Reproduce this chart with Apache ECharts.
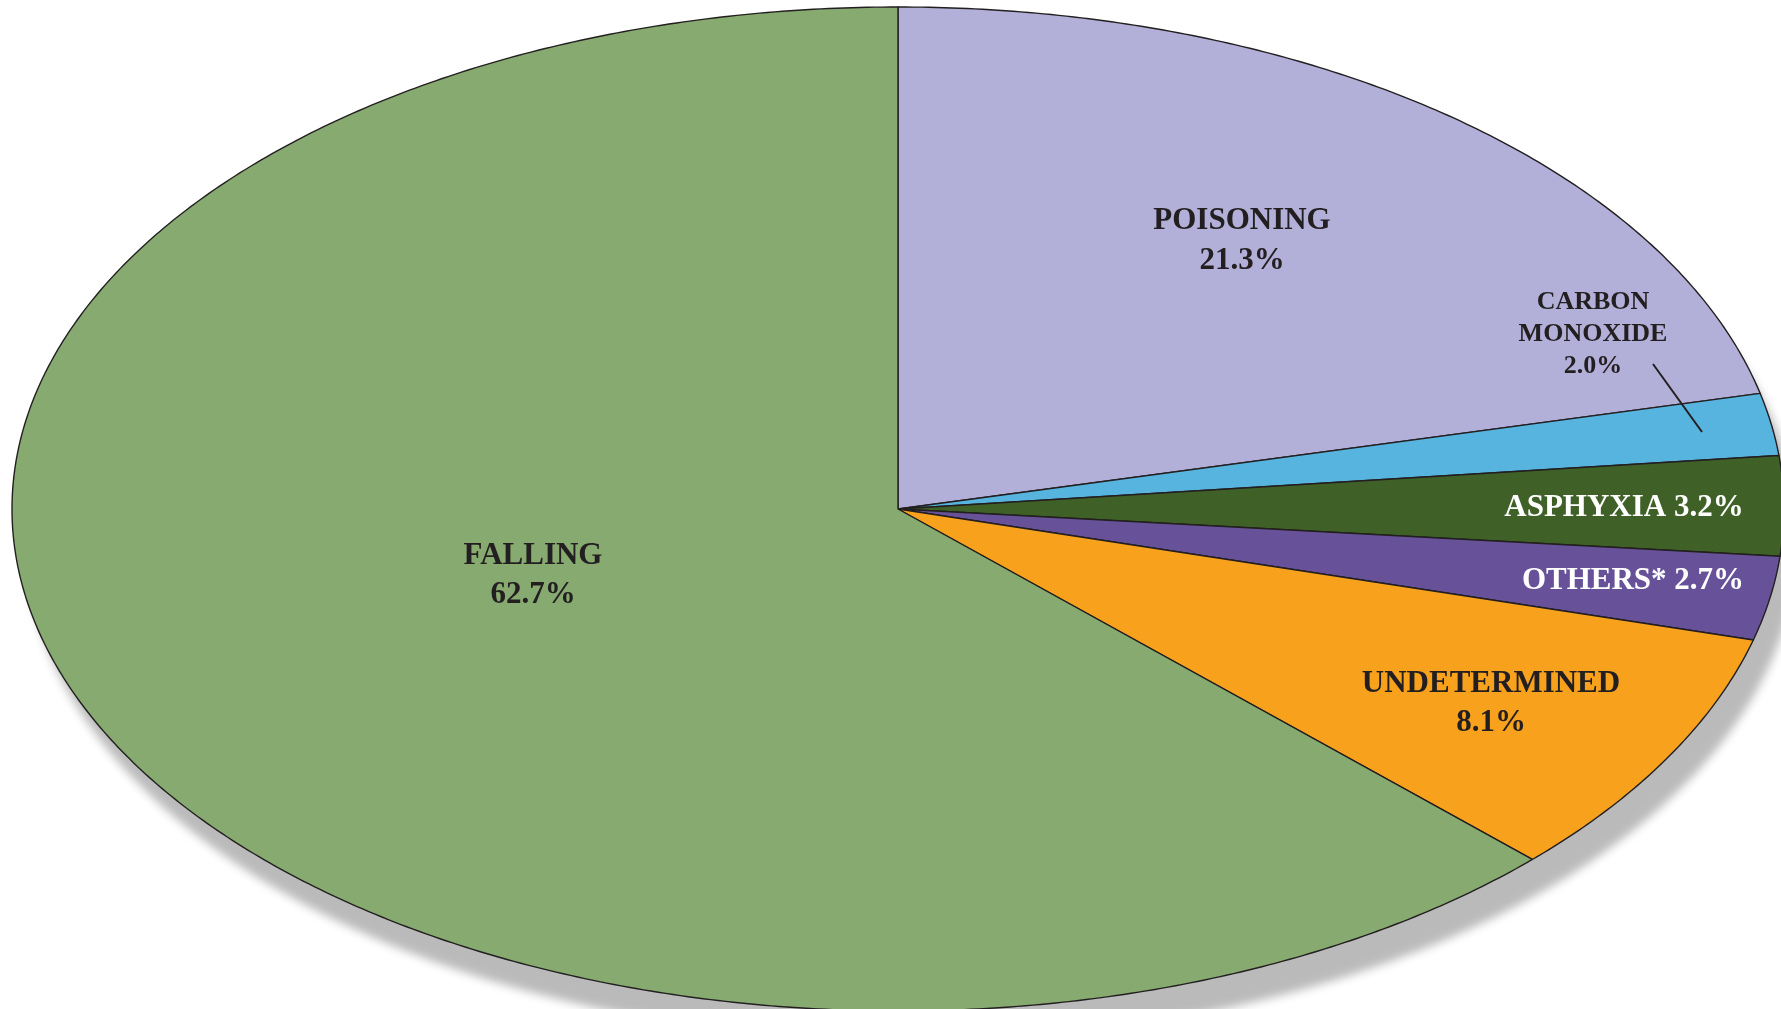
<!DOCTYPE html>
<html><head><meta charset="utf-8">
<script src="https://cdn.jsdelivr.net/npm/echarts@6/dist/echarts.min.js"></script>
<style>html,body{margin:0;padding:0;background:#fff;overflow:hidden}#c{width:1781px;height:1009px}</style>
</head><body><div id="c"></div>
<script>
// ---- data ----
const categories = ['POISONING', 'CARBON MONOXIDE', 'ASPHYXIA', 'OTHERS*', 'UNDETERMINED', 'FALLING'];
const values = [21.3, 2.0, 3.2, 2.7, 8.1, 62.7];

// ---- styles / layout ----
const colors = ['#B2AFD8', '#57B4DE', '#3F6127', '#67529A', '#F7A11D', '#87AA70'];
const labelTextColors = ['#231F20', '#231F20', '#FFFFFF', '#FFFFFF', '#231F20', '#231F20'];
const labelSplitName = [false, true, false, false, false, false];
const labelInline = [false, false, true, true, false, false];
const labelPos = [[1242, 241], [1593, 334], [1624, 508], [1633, 581], [1491, 703], [533, 575]];
const labelFontSize = [31, 26, 31, 31, 31, 31];
const labelLineHeight = [40, 32, 40, 40, 39, 39];
const leader = [[1653, 364], [1702, 432]];
const CX = 898, CY = 509, RX = 886, RY = 502;
const STROKE = '#231F20';

const total = values.reduce((a, b) => a + b, 0);
const starts = [];
let acc = 0;
values.forEach(v => { starts.push(acc); acc += v; });

function arcPoints(f0, f1, withCenter) {
  const pts = withCenter ? [[CX, CY]] : [];
  const t0 = f0 * 2 * Math.PI, t1 = f1 * 2 * Math.PI;
  const n = Math.max(4, Math.ceil((t1 - t0) / (Math.PI / 360)));
  for (let i = 0; i <= n; i++) {
    const t = t0 + (t1 - t0) * i / n;
    pts.push([CX + RX * Math.sin(t), CY - RY * Math.cos(t)]);
  }
  return pts;
}

const chart = echarts.init(document.getElementById('c'), null, { renderer: 'canvas' });
chart.setOption({
  animation: false,
  backgroundColor: '#fff',
  series: [
    {
      type: 'custom', coordinateSystem: 'none', z: 1, silent: true,
      data: [0],
      renderItem: function () {
        return {
          type: 'polygon',
          shape: { points: arcPoints(0, 1, false) },
          style: { fill: '#fff', shadowBlur: 10, shadowOffsetX: 14, shadowOffsetY: 30, shadowColor: 'rgba(0,0,0,0.27)' }
        };
      }
    },
    {
      type: 'custom', coordinateSystem: 'none', z: 2, silent: true,
      data: values.map((v, i) => ({ name: categories[i], value: v })),
      renderItem: function (params, api) {
        const i = params.dataIndex;
        const v = api.value(0);
        const f0 = starts[i] / total, f1 = (starts[i] + v) / total;
        return {
          type: 'polygon',
          shape: { points: arcPoints(f0, f1, true) },
          style: { fill: colors[i], stroke: STROKE, lineWidth: 1.4, lineJoin: 'round' }
        };
      }
    },
    {
      type: 'custom', coordinateSystem: 'none', z: 3, silent: true,
      data: values.map((v, i) => ({ name: categories[i], value: v })),
      renderItem: function (params, api) {
        const i = params.dataIndex;
        const v = api.value(0);
        const name = labelSplitName[i] ? categories[i].replace(' ', '\n') : categories[i];
        const txt = name + (labelInline[i] ? ' ' : '\n') + v.toFixed(1) + '%';
        const children = [{
          type: 'text',
          style: {
            text: txt, x: labelPos[i][0], y: labelPos[i][1],
            fill: labelTextColors[i], fontFamily: '"Liberation Serif", "Times New Roman", serif',
            fontWeight: 'bold', fontSize: labelFontSize[i], lineHeight: labelLineHeight[i],
            align: 'center', verticalAlign: 'middle'
          }
        }];
        if (i === 1) {
          children.push({
            type: 'line',
            shape: { x1: leader[0][0], y1: leader[0][1], x2: leader[1][0], y2: leader[1][1] },
            style: { stroke: STROKE, lineWidth: 2 }
          });
        }
        return { type: 'group', children: children };
      }
    }
  ]
});
</script>
</body></html>
